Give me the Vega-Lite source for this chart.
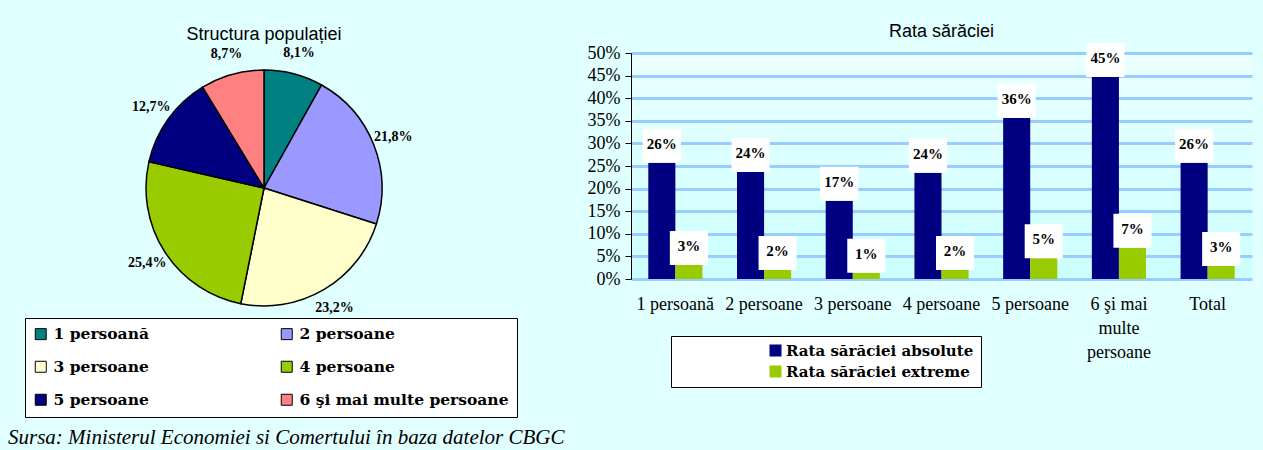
{
  "$schema": "https://vega.github.io/schema/vega-lite/v6.json",
  "background": "#e0ffff",
  "padding": {"left": 0, "top": 22, "right": 11, "bottom": 4},
  "title": {
    "text": "Sursa: Ministerul Economiei si Comertului în baza datelor CBGC",
    "orient": "bottom", "anchor": "start", "font": "Liberation Serif", "fontStyle": "italic",
    "fontWeight": "normal", "fontSize": 21, "color": "black", "offset": 9, "dx": 8
  },
  "datasets": {
    "pop": [
      {"cat": "1 persoană", "val": 8.1, "ord": 1, "label": "8,1%"},
      {"cat": "2 persoane", "val": 21.8, "ord": 2, "label": "21,8%"},
      {"cat": "3 persoane", "val": 23.2, "ord": 3, "label": "23,2%"},
      {"cat": "4 persoane", "val": 25.4, "ord": 4, "label": "25,4%"},
      {"cat": "5 persoane", "val": 12.7, "ord": 5, "label": "12,7%"},
      {"cat": "6 şi mai multe persoane", "val": 8.7, "ord": 6, "label": "8,7%"}
    ],
    "rates": [
      {"cat": "1 persoană", "series": "Rata sărăciei absolute", "val": 0.257},
      {"cat": "1 persoană", "series": "Rata sărăciei extreme", "val": 0.031},
      {"cat": "2 persoane", "series": "Rata sărăciei absolute", "val": 0.237},
      {"cat": "2 persoane", "series": "Rata sărăciei extreme", "val": 0.020},
      {"cat": "3 persoane", "series": "Rata sărăciei absolute", "val": 0.173},
      {"cat": "3 persoane", "series": "Rata sărăciei extreme", "val": 0.014},
      {"cat": "4 persoane", "series": "Rata sărăciei absolute", "val": 0.235},
      {"cat": "4 persoane", "series": "Rata sărăciei extreme", "val": 0.020},
      {"cat": "5 persoane", "series": "Rata sărăciei absolute", "val": 0.356},
      {"cat": "5 persoane", "series": "Rata sărăciei extreme", "val": 0.046},
      {"cat": "6 şi mai multe persoane", "series": "Rata sărăciei absolute", "val": 0.447},
      {"cat": "6 şi mai multe persoane", "series": "Rata sărăciei extreme", "val": 0.069},
      {"cat": "Total", "series": "Rata sărăciei absolute", "val": 0.257},
      {"cat": "Total", "series": "Rata sărăciei extreme", "val": 0.029}
    ]
  },
  "spacing": 103,
  "bounds": "flush",
  "resolve": {"scale": {"color": "independent"}, "legend": {"color": "independent"}},
  "hconcat": [
    {
      "width": 528,
      "height": 270,
      "title": {"text": "Structura populației"},
      "data": {"name": "pop"},
      "encoding": {
        "theta": {"field": "val", "type": "quantitative", "stack": true},
        "order": {"field": "ord", "type": "quantitative"}
      },
      "layer": [
        {
          "mark": {"type": "arc", "outerRadius": 118, "stroke": "black", "strokeWidth": 1.5},
          "encoding": {
            "color": {
              "field": "cat", "type": "nominal",
              "sort": ["1 persoană", "2 persoane", "3 persoane", "4 persoane", "5 persoane", "6 şi mai multe persoane"],
              "scale": {"range": ["#008080", "#9999ff", "#ffffcc", "#99cc00", "#000080", "#ff8080"]},
              "legend": {
                "orient": "none", "legendX": 25, "legendY": 265, "title": null,
                "direction": "horizontal", "columns": 2, "columnPadding": 130, "rowPadding": 16, "padding": 8,
                "fillColor": "white", "strokeColor": "black",
                "symbolType": "square", "symbolSize": 121, "symbolStrokeColor": "black", "symbolStrokeWidth": 1,
                "symbolOpacity": 1,
                "labelFont": "DejaVu Serif", "labelFontWeight": "bold", "labelFontSize": 15.5,
                "labelColor": "black", "labelOffset": 5, "labelLimit": 400
              }
            }
          }
        },
        {
          "mark": {"type": "text", "radius": 139, "font": "Liberation Serif", "fontWeight": "bold", "fontSize": 14, "color": "black"},
          "encoding": {"text": {"field": "label"}}
        }
      ]
    },
    {
      "width": 621,
      "height": 226,
      "title": {"text": "Rata sărăciei"},
      "view": {
        "fill": {
          "gradient": "linear", "x1": 0, "y1": 0, "x2": 0, "y2": 1,
          "stops": [{"offset": 0, "color": "#eaffff"}, {"offset": 1, "color": "#ccffff"}]
        }
      },
      "data": {"name": "rates"},
      "encoding": {
        "x": {
          "field": "cat", "type": "nominal", "sort": null,
          "scale": {"paddingInner": 0.39, "paddingOuter": 0.195},
          "axis": {
            "title": null, "domain": false, "ticks": false, "labelAngle": 0,
            "labelFont": "Liberation Serif", "labelFontSize": 18, "labelColor": "black",
            "labelPadding": 16, "labelLineHeight": 24, "labelLimit": 300,
            "labelExpr": "datum.value == '6 şi mai multe persoane' ? ['6 şi mai', 'multe', 'persoane'] : datum.value"
          }
        },
        "xOffset": {"field": "series", "type": "nominal", "sort": ["Rata sărăciei absolute", "Rata sărăciei extreme"]},
        "y": {
          "field": "val", "type": "quantitative",
          "scale": {"domain": [0, 0.5], "nice": false},
          "axis": {
            "title": null, "values": [0, 0.05, 0.1, 0.15, 0.2, 0.25, 0.3, 0.35, 0.4, 0.45, 0.5],
            "format": ".0%", "labelFont": "Liberation Serif", "labelFontSize": 18, "labelColor": "black",
            "domainColor": "black", "domainWidth": 1, "tickColor": "black", "tickSize": 6, "labelPadding": 5,
            "gridColor": "#99ccff", "gridWidth": 3, "gridOpacity": 1
          }
        }
      },
      "layer": [
        {
          "mark": {"type": "bar"},
          "encoding": {
            "color": {
              "field": "series", "type": "nominal",
              "sort": ["Rata sărăciei absolute", "Rata sărăciei extreme"],
              "scale": {"range": ["#000080", "#99cc00"]},
              "legend": {
                "orient": "none", "legendX": 40, "legendY": 283, "title": null,
                "padding": 7, "rowPadding": 5, "fillColor": "white", "strokeColor": "black",
                "symbolType": "square", "symbolSize": 144, "symbolStrokeWidth": 0, "symbolOffset": 90,
                "symbolOpacity": 1,
                "labelFont": "DejaVu Serif", "labelFontWeight": "bold", "labelFontSize": 15,
                "labelColor": "black", "labelOffset": 3, "labelLimit": 400
              }
            }
          }
        },
        {
          "mark": {"type": "point", "shape": "M-1.12,-1H1.12V1H-1.12Z", "filled": true, "fill": "white", "opacity": 1, "size": 1156, "yOffset": -17, "strokeWidth": 0}
        },
        {
          "mark": {"type": "text", "dy": -19, "font": "Liberation Serif", "fontWeight": "bold", "fontSize": 15, "color": "black"},
          "encoding": {"text": {"field": "val", "type": "quantitative", "format": ".0%"}}
        }
      ]
    }
  ],
  "config": {
    "view": {"stroke": null},
    "title": {"font": "Liberation Sans", "fontSize": 18, "fontWeight": "normal", "color": "black", "offset": 2}
  }
}
